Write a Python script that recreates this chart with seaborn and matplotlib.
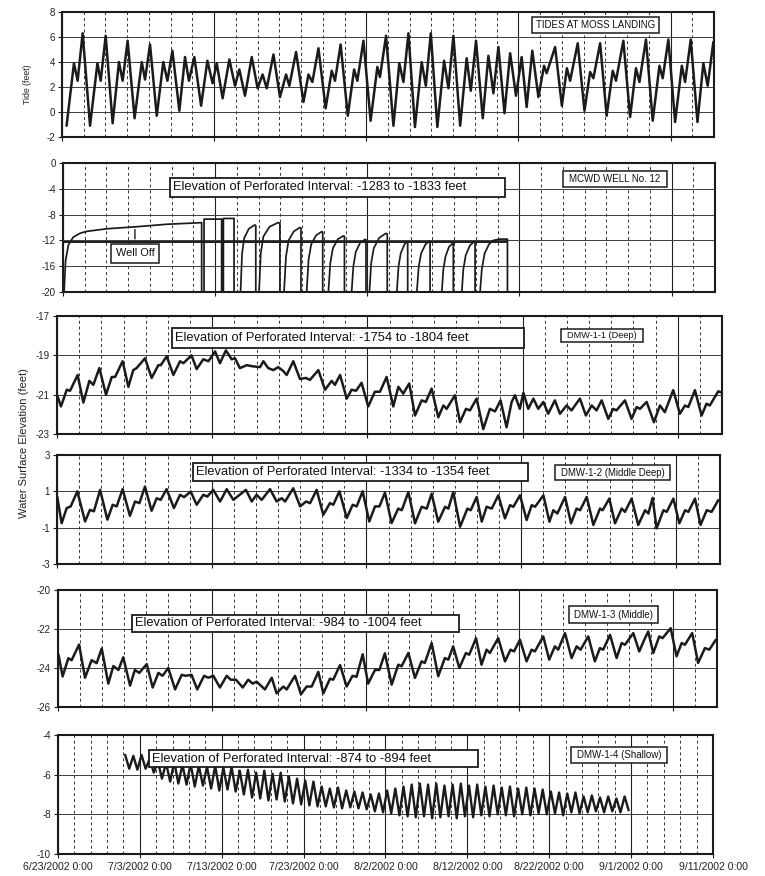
import matplotlib
matplotlib.use("Agg")
import matplotlib.pyplot as plt
import seaborn as sns
from matplotlib.patches import Rectangle
from matplotlib.ticker import MultipleLocator

# ── Tides at Moss Landing (days from start of record, feet) ──
tide_day = [0.21, 0.55, 0.72, 0.95, 1.29, 1.63, 1.78, 2.01, 2.33, 2.62, 2.79, 3.02,
            3.34, 3.67, 3.82, 4.05, 4.36, 4.66, 4.85, 5.08, 5.40, 5.66, 5.84, 6.09,
            6.40, 6.69, 6.93, 7.12, 7.39, 7.70, 7.96, 8.16, 8.42, 8.73, 9.00, 9.23,
            9.42, 9.73, 10.03, 10.31, 10.46, 10.77, 11.11, 11.34, 11.52, 11.80, 12.13, 12.41,
            12.56, 12.82, 13.15, 13.44, 13.59, 13.87, 14.20, 14.51, 14.63, 14.91, 15.25, 15.52,
            15.71, 15.94, 16.24, 16.55, 16.74, 16.97, 17.27, 17.58, 17.78, 18.01, 18.32, 18.62,
            18.81, 19.05, 19.36, 19.62, 19.85, 20.08, 20.36, 20.62, 20.89, 21.15, 21.38, 21.64,
            21.92, 22.18, 22.30, 22.69, 23.00, 23.23, 23.38, 23.73, 24.04, 24.30, 24.45, 24.76,
            25.06, 25.34, 25.49, 25.83, 26.14, 26.41, 26.57, 26.87, 27.18, 27.49, 27.64, 27.90,
            28.21, 28.52, 28.67, 28.93, 29.24, 29.51, 29.71, 29.97]
tide_ft = [-1.1, 3.9, 2.5, 6.3, -1.1, 3.9, 2.5, 6.1, -0.9, 4.0, 2.5, 5.7,
           -0.5, 4.0, 2.6, 5.4, -0.3, 4.0, 2.5, 4.9, 0.1, 4.4, 2.5, 4.4,
           0.5, 4.1, 2.3, 3.9, 1.1, 4.2, 2.1, 3.4, 1.3, 4.4, 1.9, 3.0,
           1.9, 4.6, 1.2, 3.0, 2.1, 4.8, 0.8, 3.0, 2.4, 5.1, 0.3, 3.3,
           2.5, 5.4, -0.3, 3.4, 2.5, 5.7, -0.7, 3.6, 2.8, 6.1, -1.1, 3.9,
           2.4, 6.3, -1.2, 4.0, 2.1, 6.3, -1.2, 4.1, 1.9, 6.1, -1.1, 4.3,
           1.7, 5.7, -0.5, 4.5, 1.5, 5.2, -0.1, 4.7, 1.3, 4.4, 0.4, 4.9,
           1.2, 3.7, 3.1, 5.2, 0.5, 3.5, 2.5, 5.5, 0.1, 3.2, 2.7, 5.5,
           -0.3, 3.3, 2.5, 5.7, -0.4, 3.5, 2.4, 5.8, -0.7, 3.7, 2.7, 5.8,
           -0.8, 3.7, 2.4, 5.8, -0.8, 3.9, 2.1, 5.6]

# ── MCWD Well No. 12 ──
well_day = [0.05, 0.12, 0.25, 0.47, 0.78, 1.09, 2.01, 3.31, 4.77, 6.38, 6.38,
            6.49, 6.49, 7.30, 7.30, 7.38, 7.38, 7.87, 7.87,
            8.17, 8.24, 8.34, 8.55, 8.82, 8.87, 8.87,
            9.02, 9.10, 9.22, 9.50, 9.89, 9.98, 9.98,
            10.17, 10.26, 10.38, 10.62, 10.90, 10.95, 10.95,
            11.21, 11.30, 11.42, 11.65, 11.90, 11.95, 11.95,
            12.21, 12.30, 12.42, 12.65, 12.90, 12.95, 12.95,
            13.28, 13.36, 13.47, 13.68, 13.90, 13.94, 13.94,
            14.10, 14.18, 14.30, 14.55, 14.86, 14.92, 14.92,
            15.36, 15.44, 15.54, 15.70, 15.82, 15.86, 15.86,
            16.28, 16.37, 16.48, 16.68, 16.86, 16.89, 16.89,
            17.43, 17.50, 17.60, 17.76, 17.93, 17.96, 17.96,
            18.35, 18.42, 18.53, 18.72, 18.91, 18.96, 18.96,
            19.19, 19.27, 19.40, 19.60, 19.80, 20.11, 20.45, 20.45]
well_ft = [-20, -15.1, -12.7, -11.5, -10.9, -10.6, -10.2, -9.9, -9.5, -9.25, -20,
           -20, -8.7, -8.7, -20, -20, -8.6, -8.6, -20,
           -20, -14.0, -11.6, -10.2, -9.6, -9.7, -20,
           -20, -14.0, -11.4, -9.9, -9.25, -9.3, -20,
           -20, -14.5, -12.0, -10.6, -10.0, -10.1, -20,
           -20, -15.0, -12.6, -11.2, -10.65, -10.7, -20,
           -20, -15.5, -13.2, -11.8, -11.3, -11.35, -20,
           -20, -16.0, -13.8, -12.3, -11.85, -11.9, -20,
           -20, -15.5, -13.2, -11.6, -10.9, -11.0, -20,
           -20, -16.0, -14.0, -12.7, -12.2, -12.25, -20,
           -20, -16.0, -14.0, -12.6, -12.1, -12.15, -20,
           -20, -16.5, -14.5, -13.0, -12.45, -12.5, -20,
           -20, -16.5, -14.3, -12.8, -12.2, -12.25, -20,
           -20, -16.5, -14.0, -12.6, -12.0, -11.8, -11.8, -20]
pump_level = -12.2
pump_span = [0.0, 20.45]
well_off_day = 3.31
well_off_top = -9.9

# ── DMW-1-1 (Deep) ──
deep_day = [0.0, 0.18, 0.44, 0.59, 0.93, 1.19, 1.46, 1.64, 1.91, 2.21, 2.47, 2.62,
            2.96, 3.22, 3.44, 3.59, 3.97, 4.27, 4.57, 4.68, 4.95, 5.25, 5.55, 5.70,
            6.07, 6.30, 6.60, 6.83, 7.13, 7.35, 7.62, 7.88, 8.03, 8.25, 8.56, 8.78,
            9.16, 9.31, 9.53, 9.76, 9.98, 10.21, 10.36, 10.66, 10.96, 11.23, 11.41, 11.79,
            12.09, 12.39, 12.54, 12.77, 13.07, 13.29, 13.49, 13.74, 14.04, 14.34, 14.57, 14.87,
            15.17, 15.40, 15.62, 15.89, 16.15, 16.45, 16.64, 16.90, 17.20, 17.43, 17.58, 17.95,
            18.18, 18.45, 18.63, 18.93, 19.23, 19.53, 19.76, 20.01, 20.28, 20.51, 20.66, 20.88,
            21.04, 21.26, 21.49, 21.71, 21.94, 22.16, 22.46, 22.69, 22.99, 23.21, 23.59, 23.86,
            24.12, 24.34, 24.57, 24.87, 25.09, 25.24, 25.62, 25.92, 26.15, 26.30, 26.60, 26.93,
            27.20, 27.42, 27.80, 28.10, 28.33, 28.48, 28.78, 29.08, 29.30, 29.45, 29.83, 30.0]
deep_ft = [-21.0, -21.6, -20.75, -20.8, -20.0, -21.4, -20.3, -20.5, -19.65, -21.0, -20.1, -20.1,
           -19.3, -20.6, -19.75, -19.65, -19.15, -20.15, -19.5, -19.5, -19.05, -20.0, -19.3, -19.4,
           -19.0, -19.7, -19.2, -19.3, -18.8, -19.4, -18.75, -19.2, -19.15, -19.65, -19.5, -19.55,
           -19.6, -19.3, -19.65, -19.75, -19.6, -19.8, -20.0, -19.3, -20.2, -20.15, -20.25, -19.75,
           -20.75, -20.3, -20.5, -20.0, -21.2, -20.75, -20.8, -20.4, -21.6, -20.85, -20.85, -20.1,
           -21.6, -20.6, -20.95, -20.43, -22.06, -21.29, -21.37, -20.69, -22.15, -21.55, -21.72, -21.03,
           -22.4, -21.72, -21.8, -21.2, -22.75, -21.72, -21.85, -21.29, -22.66, -21.37, -21.03, -21.72,
           -20.91, -21.72, -21.2, -21.72, -21.37, -21.97, -21.29, -21.97, -21.55, -21.8, -21.2, -22.06,
           -21.55, -21.8, -21.29, -22.23, -21.72, -21.8, -21.29, -22.23, -21.63, -21.72, -21.37, -22.4,
           -21.55, -21.89, -20.77, -21.97, -21.55, -21.63, -20.77, -22.06, -21.46, -21.55, -20.83, -20.9]

# ── DMW-1-2 (Middle Deep) ──
mdeep_day = [0.01, 0.21, 0.44, 0.62, 0.92, 1.27, 1.49, 1.67, 1.95, 2.28, 2.52, 2.70,
             2.97, 3.30, 3.53, 3.73, 3.98, 4.28, 4.51, 4.69, 4.96, 5.29, 5.57, 5.75,
             6.05, 6.32, 6.62, 6.80, 7.07, 7.38, 7.68, 7.98, 8.16, 8.55, 8.81, 9.03,
             9.26, 9.64, 9.94, 10.17, 10.32, 10.69, 11.00, 11.27, 11.45, 11.75, 12.05, 12.35,
             12.50, 12.78, 13.11, 13.38, 13.56, 13.83, 14.13, 14.39, 14.59, 14.84, 15.14, 15.44,
             15.60, 15.90, 16.20, 16.50, 16.73, 16.95, 17.25, 17.56, 17.71, 17.93, 18.24, 18.57,
             18.72, 18.99, 19.22, 19.44, 19.67, 19.97, 20.27, 20.50, 20.65, 20.95, 21.25, 21.48,
             21.63, 22.01, 22.28, 22.46, 22.64, 22.99, 23.26, 23.51, 23.67, 23.97, 24.27, 24.57,
             24.69, 24.99, 25.25, 25.55, 25.70, 26.00, 26.30, 26.61, 26.76, 26.95, 27.13, 27.44,
             27.59, 27.89, 28.16, 28.42, 28.57, 28.87, 29.12, 29.40, 29.62, 29.92]
mdeep_ft = [0.71, -0.75, 0.08, 0.17, 1.0, -0.66, -0.02, -0.1, 1.08, -0.56, 0.26, 0.17,
            1.12, -0.35, 0.44, 0.35, 1.26, -0.07, 0.62, 0.53, 1.12, 0.08, 0.81, 0.68,
            0.99, 0.26, 0.81, 0.71, 1.08, 0.44, 1.12, 0.53, 0.71, 1.08, 0.44, 0.81,
            0.53, 1.12, 0.44, 0.62, 0.44, 1.17, 0.17, 0.44, 0.35, 1.08, -0.29, 0.35,
            0.26, 1.0, -0.47, 0.26, 0.17, 1.0, -0.66, 0.17, 0.17, 0.93, -0.75, 0.05,
            -0.04, 0.96, -0.76, 0.15, 0.05, 0.87, -0.67, 0.15, 0.05, 0.96, -0.95, 0.05,
            -0.04, 0.69, -0.67, 0.15, 0.05, 0.78, -0.49, 0.24, 0.15, 0.78, -0.58, 0.24,
            0.15, 0.78, -0.67, -0.04, -0.22, 0.69, -0.76, 0.05, -0.04, 0.69, -0.85, 0.05,
            -0.04, 0.6, -0.76, 0.05, -0.13, 0.6, -0.85, -0.04, -0.22, 0.64, -1.04, -0.04,
            -0.13, 0.6, -0.76, -0.04, -0.13, 0.6, -0.85, -0.04, -0.13, 0.51]

# ── DMW-1-3 (Middle) ──
mid_day = [0.02, 0.21, 0.47, 0.62, 0.96, 1.23, 1.53, 1.76, 1.99, 2.29, 2.52, 2.75,
           2.97, 3.28, 3.50, 3.70, 4.04, 4.31, 4.57, 4.76, 5.02, 5.33, 5.63, 5.81,
           6.08, 6.34, 6.65, 6.84, 7.07, 7.37, 7.68, 7.86, 8.10, 8.41, 8.66, 8.86,
           9.04, 9.42, 9.73, 9.95, 10.26, 10.41, 10.79, 11.06, 11.32, 11.55, 11.85, 12.08,
           12.38, 12.53, 12.84, 13.14, 13.41, 13.59, 13.87, 14.12, 14.43, 14.63, 14.88, 15.19,
           15.49, 15.64, 15.95, 16.25, 16.55, 16.70, 17.01, 17.31, 17.61, 17.77, 17.99, 18.27,
           18.57, 18.72, 19.03, 19.28, 19.51, 19.66, 20.04, 20.35, 20.60, 20.76, 21.03, 21.33,
           21.56, 21.71, 22.09, 22.36, 22.62, 22.77, 23.08, 23.38, 23.61, 23.79, 24.14, 24.44,
           24.67, 24.82, 25.13, 25.43, 25.66, 25.81, 26.19, 26.46, 26.69, 26.87, 27.10, 27.37,
           27.52, 27.89, 28.16, 28.39, 28.54, 28.87, 29.14, 29.45, 29.65, 29.95]
mid_ft = [-23.3, -24.43, -23.5, -23.6, -22.8, -24.5, -23.6, -23.75, -23.0, -24.8, -23.9, -24.1,
          -23.45, -24.9, -24.1, -24.25, -23.8, -25.0, -24.25, -24.4, -24.0, -25.1, -24.35, -24.4,
          -24.35, -25.1, -24.4, -24.5, -24.4, -25.0, -24.4, -24.6, -24.6, -25.0, -24.6, -24.8,
          -24.7, -25.1, -24.5, -25.3, -24.95, -25.1, -24.4, -25.35, -24.95, -24.95, -24.2, -25.3,
          -24.55, -24.6, -23.85, -24.95, -24.4, -24.45, -23.3, -24.8, -24.1, -24.1, -23.25, -24.85,
          -23.83, -23.91, -23.23, -24.51, -23.66, -23.74, -22.72, -24.42, -23.49, -23.57, -22.89, -24.0,
          -23.23, -23.32, -22.47, -23.83, -23.06, -23.23, -22.47, -23.66, -23.06, -23.15, -22.55, -23.66,
          -23.06, -23.15, -22.38, -23.57, -22.89, -23.06, -22.21, -23.49, -22.89, -23.06, -22.38, -23.66,
          -22.98, -23.06, -22.3, -23.49, -22.72, -22.81, -22.21, -23.15, -22.55, -22.13, -23.23, -22.38,
          -22.47, -21.96, -23.4, -22.72, -22.81, -22.21, -23.74, -22.98, -23.06, -22.55]

# ── DMW-1-4 (Shallow): daily high / low, days after 6/23/2002 ──
shallow_first_day = 8
shallow_hi = [-5.0, -5.05, -5.0, -5.2, -5.35, -5.4, -5.35, -5.5, -5.45, -5.55,
              -5.6, -5.55, -5.65, -5.6, -5.8, -5.75, -5.9, -5.8, -5.95, -5.9,
              -6.1, -6.2, -6.3, -6.35, -6.6, -6.7, -6.65, -6.8, -6.85, -6.9,
              -7.0, -6.95, -6.8, -6.7, -6.6, -6.5, -6.45, -6.5, -6.45, -6.55,
              -6.5, -6.45, -6.55, -6.5, -6.6, -6.55, -6.65, -6.6, -6.7, -6.65,
              -6.7, -6.75, -6.85, -6.9, -6.95, -6.9, -7.1, -7.05, -7.15, -7.1,
              -7.2, -7.1]
shallow_lo = [-5.7, -5.75, -5.7, -5.9, -6.2, -6.35, -6.45, -6.5, -6.6, -6.55,
              -6.7, -6.8, -6.75, -6.85, -7.0, -7.15, -7.2, -7.3, -7.25, -7.35,
              -7.45, -7.5, -7.55, -7.6, -7.6, -7.65, -7.7, -7.65, -7.7, -7.75,
              -7.85, -7.9, -7.95, -8.05, -8.1, -8.15, -8.1, -8.2, -8.15, -8.1,
              -8.2, -8.1, -8.15, -8.05, -8.1, -8.0, -8.05, -8.1, -8.0, -8.05,
              -7.95, -8.0, -7.95, -8.05, -7.9, -7.95, -7.9, -7.85, -7.9, -7.85,
              -7.9, -7.8]
date_labels = ["6/23/2002 0:00", "7/3/2002 0:00", "7/13/2002 0:00", "7/23/2002 0:00",
               "8/2/2002 0:00", "8/12/2002 0:00", "8/22/2002 0:00", "9/1/2002 0:00",
               "9/11/2002 0:00"]

interval_text = ["Elevation of Perforated Interval: -1283 to -1833 feet",
                 "Elevation of Perforated Interval: -1754 to -1804 feet",
                 "Elevation of Perforated Interval: -1334 to -1354 feet",
                 "Elevation of Perforated Interval: -984 to -1004 feet",
                 "Elevation of Perforated Interval: -874 to -894 feet"]
well_names = ["MCWD WELL No. 12", "DMW-1-1 (Deep)", "DMW-1-2 (Middle Deep)",
              "DMW-1-3 (Middle)", "DMW-1-4 (Shallow)"]

sns.set_theme(style="white")
plt.rcParams["font.family"] = ["Liberation Sans", "DejaVu Sans"]
plt.rcParams["axes.unicode_minus"] = False

W, H = 765, 876
INK = "#1b1b1b"

fig = plt.figure(figsize=(W / 100, H / 100), dpi=100)
fig.patch.set_facecolor("white")


def panel(left, top, right, bottom):
    return fig.add_axes([left / W, 1 - bottom / H, (right - left) / W, (bottom - top) / H])


def style(ax, yticks, xmax, major, minor):
    ax.set_facecolor("white")
    ax.set_xlim(0, xmax)
    ax.set_ylim(min(yticks), max(yticks))
    ax.set_yticks(yticks)
    ax.xaxis.set_major_locator(MultipleLocator(major))
    ax.xaxis.set_minor_locator(MultipleLocator(minor))
    ax.grid(axis="y", which="major", color="#3c3c3c", lw=0.7)
    ax.grid(axis="x", which="major", color="#202020", lw=0.8)
    ax.grid(axis="x", which="minor", color="#333333", lw=0.7, ls=(0, (3, 3)))
    ax.set_axisbelow(True)
    for s in ax.spines.values():
        s.set_color(INK)
        s.set_linewidth(1.5)
    ax.tick_params(axis="y", labelsize=7, length=3, width=0.8, color=INK,
                   pad=2, left=True, labelcolor="#222")
    ax.tick_params(axis="x", which="major", length=3, width=0.8, color=INK,
                   bottom=True, labelbottom=False)
    ax.tick_params(axis="x", which="minor", length=0)
    ax.set_xlabel("")
    ax.set_ylabel("")


def draw(ax, x, y, lw):
    sns.lineplot(x=x, y=y, ax=ax, sort=False, estimator=None, color=INK,
                 lw=lw, solid_joinstyle="round")


def box(x0, y0, x1, y1, text, size, left_pad=None, lw=1.1):
    fig.add_artist(Rectangle((x0 / W, 1 - y1 / H), (x1 - x0) / W, (y1 - y0) / H,
                             transform=fig.transFigure, facecolor="white",
                             edgecolor=INK, lw=lw, zorder=5))
    if left_pad is None:
        fig.text((x0 + x1) / 2 / W, 1 - (y0 + y1) / 2 / H, text, fontsize=size,
                 ha="center", va="center", color="#111", zorder=6)
    else:
        fig.text((x0 + left_pad) / W, 1 - (y0 + y1) / 2 / H, text, fontsize=size,
                 ha="left", va="center", color="#111", zorder=6)


# ── Panel 1: tides ──
ax1 = panel(62, 12, 714, 137)
draw(ax1, tide_day, tide_ft, 1.8)
style(ax1, [-2, 0, 2, 4, 6, 8], 30, 7, 1)

# ── Panel 2: MCWD well ──
ax2 = panel(63, 163, 715, 292)
draw(ax2, pump_span, [pump_level, pump_level], 1.4)
draw(ax2, well_day, well_ft, 1.25)
ax2.annotate("", xy=(well_off_day, well_off_top), xytext=(well_off_day, pump_level),
             arrowprops=dict(arrowstyle="-", color=INK, lw=1.0))
style(ax2, [0, -4, -8, -12, -16, -20], 30, 7, 1)

# ── Panels 3-5: DMW-1-1, 1-2, 1-3 ──
ax3 = panel(57, 316, 722, 434)
draw(ax3, deep_day, deep_ft, 1.8)
style(ax3, [-17, -19, -21, -23], 30, 7, 1)

ax4 = panel(57, 455, 720, 564)
draw(ax4, mdeep_day, mdeep_ft, 1.8)
style(ax4, [3, 1, -1, -3], 30, 7, 1)

ax5 = panel(58, 590, 717, 707)
draw(ax5, mid_day, mid_ft, 1.8)
style(ax5, [-20, -22, -24, -26], 30, 7, 1)

# ── Panel 6: DMW-1-4 over dated axis ──
ax6 = panel(58, 735, 713, 854)
sh_day, sh_ft = [], []
for i, (hi, lo) in enumerate(zip(shallow_hi, shallow_lo)):
    sh_day += [shallow_first_day + i + 0.2, shallow_first_day + i + 0.7]
    sh_ft += [hi, lo]
draw(ax6, sh_day, sh_ft, 1.7)
style(ax6, [-4, -6, -8, -10], 80, 10, 2)
ax6.set_xticks(range(0, 81, 10))
ax6.set_xticklabels(date_labels)
ax6.tick_params(axis="x", which="major", labelbottom=True, labelsize=7.6,
                labelcolor="#222", pad=3)

# ── Text boxes ──
box(532, 17, 659, 33, "TIDES AT MOSS LANDING", 7.0)
box(170, 178, 505, 197, interval_text[0], 9.3, left_pad=3, lw=1.3)
box(563, 171, 667, 187, well_names[0], 7.0)
box(111, 244, 159, 263, "Well Off", 7.9)
box(172, 328, 524, 348, interval_text[1], 9.3, left_pad=3, lw=1.3)
box(561, 329, 643, 342, well_names[1], 6.6)
box(193, 463, 528, 481, interval_text[2], 9.3, left_pad=3, lw=1.3)
box(555, 465, 670, 480, well_names[2], 6.9)
box(132, 615, 459, 632, interval_text[3], 9.3, left_pad=3, lw=1.3)
box(569, 606, 658, 623, well_names[3], 7.0)
box(149, 750, 478, 767, interval_text[4], 9.3, left_pad=3, lw=1.3)
box(571, 747, 667, 763, well_names[4], 7.0)

fig.text(28 / W, 1 - 84 / H, "Tide (feet)", rotation=90, fontsize=6.3,
         ha="center", va="center", color="#222")
fig.text(24 / W, 1 - 443 / H, "Water Surface Elevation (feet)", rotation=90,
         fontsize=8.0, ha="center", va="center", color="#222")

fig.savefig("out.png", dpi=100, facecolor="white")
